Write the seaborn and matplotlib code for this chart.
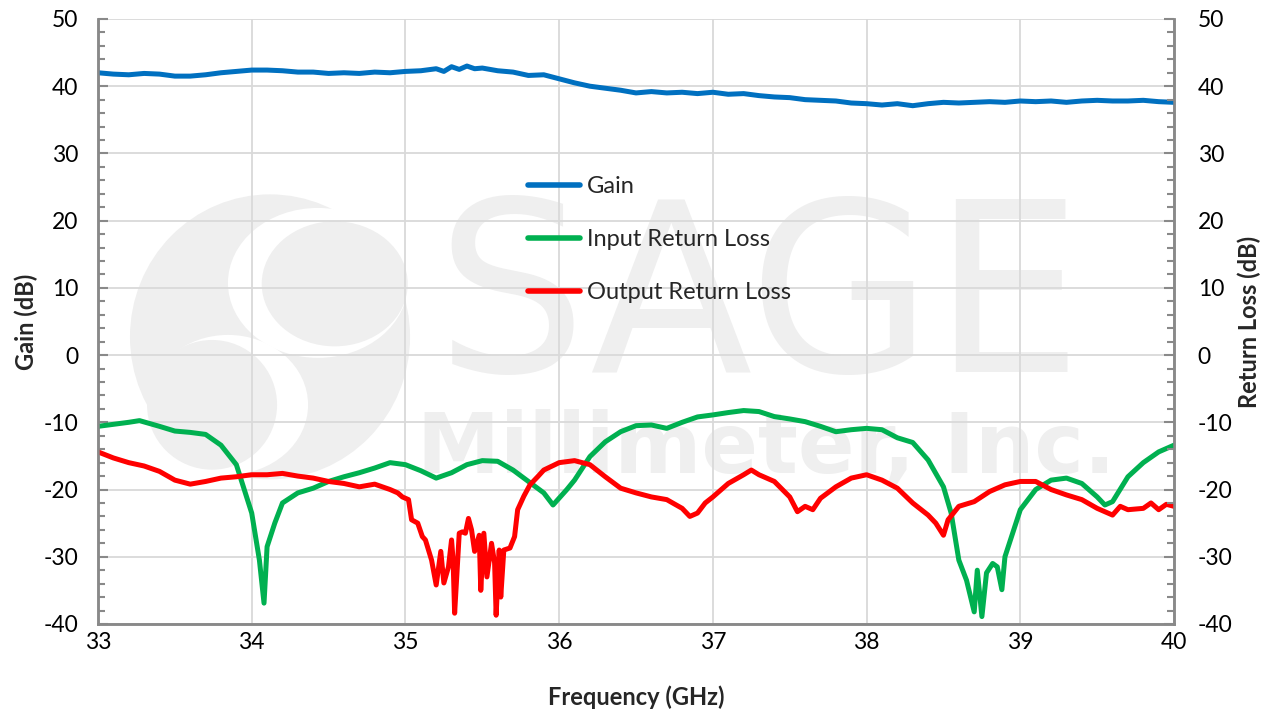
import matplotlib
matplotlib.use('Agg')
import matplotlib.pyplot as plt
import seaborn as sns
import pandas as pd
from matplotlib.patches import Ellipse
from matplotlib.ticker import MultipleLocator

# Gain trace (dB)
gain_freq = [33.0, 33.1, 33.2, 33.3, 33.4, 33.5, 33.6, 33.7, 33.8, 33.9,
             34.0, 34.1, 34.2, 34.3, 34.4, 34.5, 34.6, 34.7, 34.8, 34.9,
             35.0, 35.1, 35.2, 35.25, 35.3, 35.35, 35.4, 35.45, 35.5, 35.6,
             35.7, 35.8, 35.9, 36.0, 36.1, 36.2, 36.3, 36.4, 36.5, 36.6,
             36.7, 36.8, 36.9, 37.0, 37.1, 37.2, 37.3, 37.4, 37.5, 37.6,
             37.7, 37.8, 37.9, 38.0, 38.1, 38.2, 38.3, 38.4, 38.5, 38.6,
             38.7, 38.8, 38.9, 39.0, 39.1, 39.2, 39.3, 39.4, 39.5, 39.6,
             39.7, 39.8, 39.9, 40.0]
gain_db = [42.0, 41.8, 41.7, 41.9, 41.8, 41.5, 41.5, 41.7, 42.0, 42.2,
           42.4, 42.4, 42.3, 42.1, 42.1, 41.9, 42.0, 41.9, 42.1, 42.0,
           42.2, 42.3, 42.6, 42.2, 42.9, 42.5, 43.0, 42.6, 42.7, 42.3,
           42.1, 41.6, 41.7, 41.1, 40.5, 40.0, 39.7, 39.4, 39.0, 39.2,
           39.0, 39.1, 38.9, 39.1, 38.8, 38.9, 38.6, 38.4, 38.3, 38.0,
           37.9, 37.8, 37.5, 37.4, 37.2, 37.4, 37.1, 37.4, 37.6, 37.5,
           37.6, 37.7, 37.6, 37.8, 37.7, 37.8, 37.6, 37.8, 37.9, 37.8,
           37.8, 37.9, 37.7, 37.6]

# Input return loss (dB)
irl_freq = [33.0, 33.1, 33.2, 33.27, 33.4, 33.5, 33.6, 33.7, 33.8, 33.9,
            34.0, 34.05, 34.08, 34.1, 34.15, 34.2, 34.3, 34.4, 34.5, 34.6,
            34.7, 34.8, 34.9, 35.0, 35.1, 35.2, 35.3, 35.4, 35.5, 35.6,
            35.7, 35.8, 35.9, 35.96, 36.05, 36.1, 36.2, 36.3, 36.4, 36.5,
            36.6, 36.7, 36.8, 36.9, 37.0, 37.1, 37.2, 37.3, 37.4, 37.5,
            37.6, 37.7, 37.8, 37.9, 38.0, 38.1, 38.2, 38.3, 38.4, 38.5,
            38.55, 38.6, 38.65, 38.7, 38.72, 38.75, 38.78, 38.82, 38.85, 38.88,
            38.9, 38.95, 39.0, 39.1, 39.2, 39.3, 39.4, 39.5, 39.55, 39.6,
            39.7, 39.8, 39.9, 40.0]
irl_db = [-10.6, -10.3, -10.0, -9.75, -10.6, -11.3, -11.5, -11.8, -13.4, -16.3,
          -23.5, -30.5, -36.9, -28.5, -25.0, -22.0, -20.5, -19.8, -18.8, -18.1,
          -17.5, -16.8, -16.0, -16.3, -17.2, -18.3, -17.5, -16.3, -15.7, -15.8,
          -17.1, -18.8, -20.5, -22.3, -20.0, -18.6, -15.1, -12.9, -11.4, -10.5,
          -10.4, -10.9, -10.0, -9.2, -8.9, -8.55, -8.25, -8.4, -9.15, -9.5,
          -9.9, -10.6, -11.4, -11.1, -10.9, -11.1, -12.3, -13.0, -15.6, -19.6,
          -23.5, -30.5, -33.5, -38.2, -32.0, -38.9, -32.4, -31.0, -31.5, -34.9,
          -30.0, -26.5, -23.0, -20.0, -18.6, -18.3, -19.1, -21.1, -22.3, -21.8,
          -18.1, -16.0, -14.4, -13.4]

# Output return loss (dB)
orl_freq = [33.0, 33.1, 33.2, 33.3, 33.4, 33.5, 33.6, 33.7, 33.8, 33.9,
            34.0, 34.1, 34.2, 34.3, 34.4, 34.5, 34.6, 34.7, 34.8, 34.9,
            34.95, 34.98, 35.02, 35.04, 35.08, 35.11, 35.13, 35.17, 35.2, 35.23,
            35.25, 35.28, 35.3, 35.31, 35.32, 35.35, 35.37, 35.39, 35.41, 35.43,
            35.45, 35.48, 35.49, 35.51, 35.53, 35.56, 35.58, 35.59, 35.61, 35.62,
            35.64, 35.68, 35.71, 35.73, 35.77, 35.81, 35.86, 35.9, 36.0, 36.1,
            36.2, 36.3, 36.4, 36.5, 36.6, 36.7, 36.8, 36.85, 36.9, 36.95,
            37.0, 37.1, 37.2, 37.25, 37.3, 37.4, 37.5, 37.55, 37.6, 37.65,
            37.7, 37.8, 37.9, 38.0, 38.1, 38.2, 38.3, 38.4, 38.45, 38.5,
            38.53, 38.6, 38.7, 38.8, 38.9, 39.0, 39.1, 39.2, 39.3, 39.4,
            39.5, 39.6, 39.65, 39.7, 39.8, 39.85, 39.9, 39.95, 40.0]
orl_db = [-14.4, -15.3, -16.0, -16.5, -17.3, -18.6, -19.2, -18.8, -18.3, -18.1,
          -17.8, -17.8, -17.6, -18.0, -18.3, -18.8, -19.1, -19.6, -19.2, -20.0,
          -20.5, -21.1, -21.5, -24.5, -25.0, -27.0, -27.5, -30.5, -34.2, -29.2,
          -33.9, -31.5, -27.5, -30.5, -38.4, -26.5, -26.3, -26.5, -24.3, -26.0,
          -29.2, -26.8, -35.0, -26.5, -33.0, -28.0, -30.9, -38.7, -29.0, -36.0,
          -29.0, -28.7, -27.0, -23.0, -21.0, -19.3, -18.1, -17.1, -16.0, -15.7,
          -16.3, -18.1, -19.8, -20.5, -21.1, -21.5, -22.8, -24.0, -23.5, -22.0,
          -21.1, -19.1, -17.8, -17.1, -17.8, -18.8, -21.1, -23.3, -22.5, -23.0,
          -21.3, -19.6, -18.3, -17.8, -18.6, -19.8, -22.0, -23.8, -25.0, -26.8,
          -24.5, -22.5, -21.8, -20.3, -19.3, -18.8, -18.8, -20.0, -20.8, -21.5,
          -22.8, -23.8, -22.5, -23.0, -22.8, -22.0, -23.0, -22.2, -22.5]

series_names = ['Gain', 'Input Return Loss', 'Output Return Loss']
series_colors = ['#0070c0', '#00b050', '#ff0000']

sns.set_style('white')
plt.rcParams['font.family'] = ['Lato', 'DejaVu Sans']
plt.rcParams['axes.unicode_minus'] = False

fig = plt.figure(figsize=(12.76, 7.11), dpi=100)
ax = fig.add_axes([0.0768, 0.1224, 0.8433, 0.8509])

# faint company watermark (logo circle with S swirl + name)
wm = '#efefef'
ax.add_patch(Ellipse((34.119, 2.71), 1.822, 42.4, color=wm, lw=0, zorder=0.1))
ax.add_patch(Ellipse((34.431, 10.74), 1.171, 22.3, color='white', lw=0, zorder=0.2))
ax.add_patch(Ellipse((34.54, 10.6), 0.95, 18.6, color=wm, lw=0, zorder=0.3))
ax.add_patch(Ellipse((33.846, -7.4), 1.041, 20.8, color='white', lw=0, zorder=0.2))
ax.add_patch(Ellipse((33.742, -7.4), 0.846, 19.3, color=wm, lw=0, zorder=0.3))
ax.text(37.3, 7.2, 'SAGE', color=wm, fontsize=171, ha='center', va='center',
        family='DejaVu Sans', zorder=0.1)
ax.text(37.35, -14.1, 'Millimeter, Inc.', color=wm, fontsize=60, ha='center',
        va='center', fontweight='bold', family='DejaVu Sans', zorder=0.1)

frames = [
    pd.DataFrame({'freq': gain_freq, 'db': gain_db}),
    pd.DataFrame({'freq': irl_freq, 'db': irl_db}),
    pd.DataFrame({'freq': orl_freq, 'db': orl_db}),
]
for df, name, col in zip(frames, series_names, series_colors):
    sns.lineplot(data=df, x='freq', y='db', ax=ax, color=col, lw=3.6,
                 label=name, estimator=None, sort=False, zorder=3)

ax.set_xlim(33, 40)
ax.set_ylim(-40, 50)
ax.xaxis.set_major_locator(MultipleLocator(1))
ax.xaxis.set_minor_locator(MultipleLocator(0.2))
ax.yaxis.set_major_locator(MultipleLocator(10))
ax.yaxis.set_minor_locator(MultipleLocator(2))
ax.grid(True, which='major', color='#d9d9d9', lw=1.3)
ax.set_axisbelow(True)

ax.set_xlabel('Frequency (GHz)', fontsize=17, fontweight='bold', labelpad=23)
ax.set_ylabel('Gain (dB)', fontsize=17, fontweight='bold', labelpad=4)

ax2 = ax.twinx()
ax2.set_ylim(-40, 50)
ax2.yaxis.set_major_locator(MultipleLocator(10))
ax2.yaxis.set_minor_locator(MultipleLocator(2))
ax2.set_ylabel('Return Loss (dB)', fontsize=17, fontweight='bold', labelpad=4)

for a in (ax, ax2):
    a.tick_params(which='both', direction='in', colors='#898989', labelcolor='black',
                  labelsize=16.5)
    a.tick_params(which='major', length=7, width=1.5)
    a.tick_params(which='minor', length=5, width=1.5)
    for s in a.spines.values():
        s.set_color('#898989')
        s.set_linewidth(1.8)
    a.spines['top'].set_visible(False)
ax.tick_params(axis='x', pad=6)
ax.tick_params(axis='y', pad=14)
ax2.tick_params(axis='y', pad=17)

leg = ax.legend(loc='upper left', bbox_to_anchor=(0.38, 0.775), frameon=False,
                fontsize=17, handlelength=2.2, handletextpad=0.3, labelspacing=1.35)
for h in leg.get_lines():
    h.set_linewidth(4)
    h.set_solid_capstyle('round')

fig.savefig('out.png', dpi=100)
